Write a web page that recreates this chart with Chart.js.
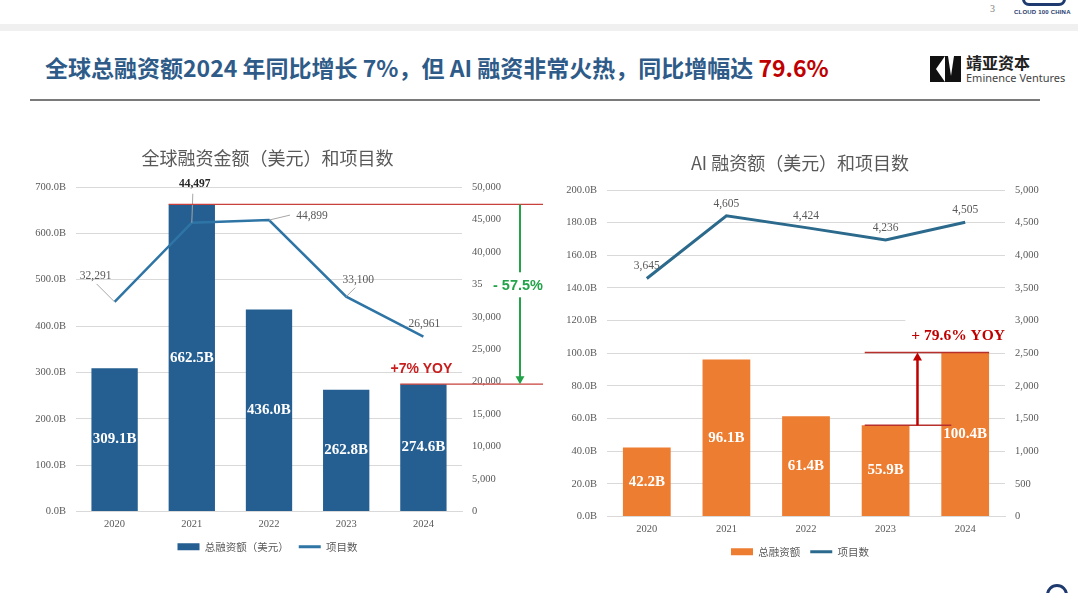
<!DOCTYPE html>
<html><head><meta charset="utf-8">
<script src="https://cdn.jsdelivr.net/npm/chart.js@4.4.1/dist/chart.umd.min.js"></script>
<style>
html,body{margin:0;padding:0;background:#fff;}
#page{position:relative;width:1078px;height:593px;overflow:hidden;background:#fff;font-family:"Noto Sans CJK SC","Noto Sans",sans-serif;}
.band{position:absolute;left:0;top:24px;width:1078px;height:7px;background:#f0f0f0;}
.pno{position:absolute;left:990px;top:3px;font:10px "Liberation Serif",serif;color:#7f7f7f;}
.c100{position:absolute;left:1014px;top:9px;font:bold 6px "Liberation Sans",sans-serif;color:#1f3a6e;letter-spacing:0.2px;}
.c100logo{position:absolute;left:1022px;top:-8px;width:44px;height:14px;border:3px solid #1f3a6e;border-radius:8px;box-sizing:border-box;}
.title{position:absolute;left:45px;top:50px;font-family:"Noto Sans CJK SC",sans-serif;font-weight:bold;font-size:23px;line-height:34px;color:#2e5b88;white-space:nowrap;}
.title .red{color:#c00000;}
.rule{position:absolute;left:30px;top:99px;width:1010px;height:2px;background:#7a7a7a;}
.brand1{position:absolute;left:966px;top:52px;font-family:"Noto Sans CJK SC",sans-serif;font-weight:bold;font-size:16px;line-height:20px;color:#222;}
.brand2{position:absolute;left:966px;top:70px;font-family:"Noto Sans","Open Sans",sans-serif;font-size:11px;line-height:16px;color:#444;}
.icon{position:absolute;left:930px;top:56px;}
#c1{position:absolute;left:30px;top:140px;}
#c2{position:absolute;left:555px;top:140px;}
.botlogo{position:absolute;left:1046px;top:584px;width:22px;height:22px;border-radius:50%;border:3px solid #1f3a6e;box-sizing:border-box;}
</style></head>
<body><div id="page">
<div class="c100logo"></div>
<div class="band"></div>
<div class="pno">3</div>
<div class="c100">CLOUD 100 CHINA</div>
<div class="title">全球总融资额2024 年同比增长 7%，但 AI 融资非常火热，同比增幅达 <span class="red">79.6%</span></div>
<svg class="icon" width="31" height="26" viewBox="0 0 31 26"><rect x="0" y="0" width="31" height="26" fill="#111"/><polygon points="6,13 15,0 15,26" fill="#fff"/><polygon points="18,0 24,0 21,20" fill="#fff"/></svg>
<div class="brand1">靖亚资本</div>
<div class="brand2">Eminence Ventures</div>
<div class="rule"></div>
<canvas id="c1" width="520" height="425"></canvas>
<canvas id="c2" width="510" height="430"></canvas>
<div class="botlogo"></div>
</div>
<script>
// ---- data ----
const years = ['2020', '2021', '2022', '2023', '2024'];
const globalFunding = [309.1, 662.5, 436.0, 262.8, 274.6];
const globalDeals = [32291, 44497, 44899, 33100, 26961];
const aiFunding = [42.2, 96.1, 61.4, 55.9, 100.4];
const aiDeals = [3645, 4605, 4424, 4236, 4505];
const globalYoYText = '+7% YOY';
const globalDropText = '- 57.5%';
const aiYoYText = '+ 79.6% YOY';

// ---- label placement (styling only) ----
const leftDealLabelPos = [
  {dx:-19, dy:-26, lx:1, ly:8},
  {dx:3, dy:-39, lx:-2, ly:10, bold:true},
  {dx:43, dy:-4, lx:-22, ly:-1},
  {dx:12, dy:-17, lx:-3, ly:8},
  {dx:1, dy:-13}
];

const SERIF = '"Liberation Serif", "Times New Roman", serif';
const CJK = '"Noto Sans CJK SC", sans-serif';
const GRID = '#d9d9d9';
const TICK = '#595959';

function legendLabels(chart){
  const items = Chart.defaults.plugins.legend.labels.generateLabels(chart);
  items.forEach(it => {
    const ds = chart.data.datasets[it.datasetIndex];
    if (ds.type === 'line') { it.pointStyle = 'line'; it.strokeStyle = ds.borderColor; it.lineWidth = 3; }
    else { it.pointStyle = 'rect'; it.lineWidth = 0; }
  });
  return items;
}
function line(ctx, x1, y1, x2, y2){ ctx.beginPath(); ctx.moveTo(x1, y1); ctx.lineTo(x2, y2); ctx.stroke(); }
function fmtInt(v){ return Number(v).toLocaleString('en-US'); }

function baseOptions(opts){
  return {
    responsive:false, animation:false, devicePixelRatio:1,
    layout:{padding:{left:0, right:opts.padRight, top:0, bottom:3}},
    plugins:{
      title:{display:true, text:opts.title, color:'#595959', font:{family:CJK, size:18, weight:'normal'}, padding:opts.titlePad},
      legend:{position:'bottom', labels:{usePointStyle:true, pointStyleWidth:22, boxHeight:7, color:'#595959', font:{family:CJK, size:10.5}, padding:10,
        generateLabels:legendLabels, sort:(a, b) => a.datasetIndex - b.datasetIndex}},
      tooltip:{enabled:false}
    },
    scales:{
      x:{grid:{display:false, drawTicks:false}, border:{color:GRID}, ticks:{color:TICK, font:{family:SERIF, size:10.5}, padding:6},
         afterFit(s){ s.height = 20; }},
      y:{position:'left', min:0, max:opts.yMax, grid:{color:GRID, drawTicks:false}, border:{display:false},
         ticks:{stepSize:opts.yStep, color:TICK, font:{family:SERIF, size:10.5}, padding:10, callback:v => v.toFixed(1) + 'B'},
         afterFit(s){ s.width = opts.yWidth; }},
      y1:{position:'right', min:0, max:opts.y1Max, grid:{drawOnChartArea:false, drawTicks:false, display:true}, border:{display:false},
         ticks:{stepSize:opts.y1Step, color:TICK, font:{family:SERIF, size:10.5}, padding:10, callback:opts.y1Cb},
         afterFit(s){ s.width = opts.y1Width; }}
    }
  };
}

// ---- left chart ----
const leftPlugin = {
  id:'leftAnno',
  afterDatasetsDraw(chart){
    const ctx = chart.ctx;
    const bars = chart.getDatasetMeta(0).data;
    const pts = chart.getDatasetMeta(1).data;
    const y = chart.scales.y;
    ctx.save();
    ctx.font = 'bold 15px ' + SERIF; ctx.fillStyle = '#ffffff'; ctx.textAlign = 'center'; ctx.textBaseline = 'middle';
    bars.forEach((b, i) => ctx.fillText(globalFunding[i].toFixed(1) + 'B', b.x, (b.y + b.base) / 2));
    pts.forEach((p, i) => {
      const o = leftDealLabelPos[i];
      const lx = p.x + o.dx, ly = p.y + o.dy;
      if (o.lx !== undefined) { ctx.strokeStyle = '#a6a6a6'; ctx.lineWidth = 1; line(ctx, p.x, p.y, lx + o.lx, ly + o.ly); }
      ctx.font = (o.bold ? 'bold ' : '') + '11.5px ' + SERIF;
      ctx.fillStyle = o.bold ? '#262626' : '#595959';
      ctx.fillText(fmtInt(globalDeals[i]), lx, ly);
    });
    const yTop = y.getPixelForValue(globalFunding[1]);
    const yBot = y.getPixelForValue(globalFunding[4]);
    const xEnd = chart.width - 7;
    ctx.strokeStyle = '#c9413c'; ctx.lineWidth = 1.2;
    line(ctx, bars[1].x - bars[1].width / 2, yTop, xEnd, yTop);
    line(ctx, bars[4].x - bars[4].width / 2, yBot, xEnd, yBot);
    const ax = chart.chartArea.right + 58;
    ctx.strokeStyle = '#22a34a'; ctx.fillStyle = '#22a34a'; ctx.lineWidth = 2;
    line(ctx, ax, yTop, ax, yBot - 6);
    ctx.beginPath(); ctx.moveTo(ax - 4.5, yBot - 8); ctx.lineTo(ax + 4.5, yBot - 8); ctx.lineTo(ax, yBot); ctx.closePath(); ctx.fill();
    const ty = (yTop + yBot) / 2 - 8;
    ctx.fillStyle = '#ffffff'; ctx.fillRect(ax - 27, ty - 14, 54, 25);
    ctx.fillStyle = '#22a34a'; ctx.font = 'bold 14.5px "Liberation Sans", Arial, sans-serif';
    ctx.fillText(globalDropText, ax - 2, ty);
    ctx.fillStyle = '#c81e1e'; ctx.font = 'bold 14px "Liberation Sans", Arial, sans-serif';
    ctx.fillText(globalYoYText, bars[4].x - 2, yBot - 15);
    ctx.restore();
  }
};

new Chart(document.getElementById('c1'), {
  type:'bar',
  data:{labels:years, datasets:[
    {type:'bar', label:'总融资额（美元）', data:globalFunding, backgroundColor:'#255e91', yAxisID:'y', order:1, barPercentage:1, categoryPercentage:0.6},
    {type:'line', label:'项目数', data:globalDeals, borderColor:'#2e75a6', backgroundColor:'#2e75a6', borderWidth:2.5, pointRadius:0, yAxisID:'y1', order:0, tension:0}
  ]},
  options: baseOptions({padRight:45, title:'全球融资金额（美元）和项目数', titlePad:{top:7, bottom:18.4},
    yMax:700, yStep:100, yWidth:46, y1Max:50000, y1Step:5000, y1Width:43,
    y1Cb: v => v === 35000 ? '35' : fmtInt(v)}),
  plugins:[leftPlugin]
});

// ---- right chart ----
const rightPlugin = {
  id:'rightAnno',
  afterDatasetsDraw(chart){
    const ctx = chart.ctx;
    const bars = chart.getDatasetMeta(0).data;
    const pts = chart.getDatasetMeta(1).data;
    const y = chart.scales.y;
    ctx.save();
    ctx.font = 'bold 15px ' + SERIF; ctx.fillStyle = '#ffffff'; ctx.textAlign = 'center'; ctx.textBaseline = 'middle';
    bars.forEach((b, i) => ctx.fillText(aiFunding[i].toFixed(1) + 'B', b.x, (b.y + b.base) / 2));
    ctx.font = '11.5px ' + SERIF; ctx.fillStyle = '#595959';
    pts.forEach((p, i) => ctx.fillText(fmtInt(aiDeals[i]), p.x, p.y - 12));
    const yTop = y.getPixelForValue(aiFunding[4]);
    const yBot = y.getPixelForValue(aiFunding[3]);
    const b3L = bars[3].x - bars[3].width / 2, b3R = bars[3].x + bars[3].width / 2;
    const b4L = bars[4].x - bars[4].width / 2, b4R = bars[4].x + bars[4].width / 2;
    ctx.strokeStyle = '#b8302c'; ctx.lineWidth = 1.5;
    line(ctx, b3L + 3, yTop, b4R, yTop);
    line(ctx, b3L + 3, yBot, b4L + 10, yBot);
    const ax = b3R + 8;
    ctx.strokeStyle = '#c00000'; ctx.fillStyle = '#c00000'; ctx.lineWidth = 2.5;
    line(ctx, ax, yBot, ax, yTop + 7);
    ctx.beginPath(); ctx.moveTo(ax - 4.5, yTop + 8); ctx.lineTo(ax + 4.5, yTop + 8); ctx.lineTo(ax, yTop); ctx.closePath(); ctx.fill();
    const tx = bars[4].x - 7, ty = yTop - 17;
    ctx.font = 'bold 15.5px ' + SERIF;
    const w = ctx.measureText(aiYoYText).width;
    ctx.fillStyle = '#ffffff'; ctx.fillRect(tx - w / 2 - 6, ty - 18, chart.chartArea.right - (tx - w / 2 - 6), 27);
    ctx.fillStyle = '#c00000'; ctx.fillText(aiYoYText, tx, ty);
    ctx.restore();
  }
};

new Chart(document.getElementById('c2'), {
  type:'bar',
  data:{labels:years, datasets:[
    {type:'bar', label:'总融资额', data:aiFunding, backgroundColor:'#ed7d31', yAxisID:'y', order:1, barPercentage:1, categoryPercentage:0.6},
    {type:'line', label:'项目数', data:aiDeals, borderColor:'#2b6a8c', backgroundColor:'#2b6a8c', borderWidth:3, pointRadius:0, yAxisID:'y1', order:0, tension:0}
  ]},
  options: baseOptions({padRight:20, title:'AI 融资额（美元）和项目数', titlePad:{top:12, bottom:16.4},
    yMax:200, yStep:20, yWidth:52, y1Max:5000, y1Step:500, y1Width:40,
    y1Cb: v => fmtInt(v)}),
  plugins:[rightPlugin]
});
</script>
</body></html>
